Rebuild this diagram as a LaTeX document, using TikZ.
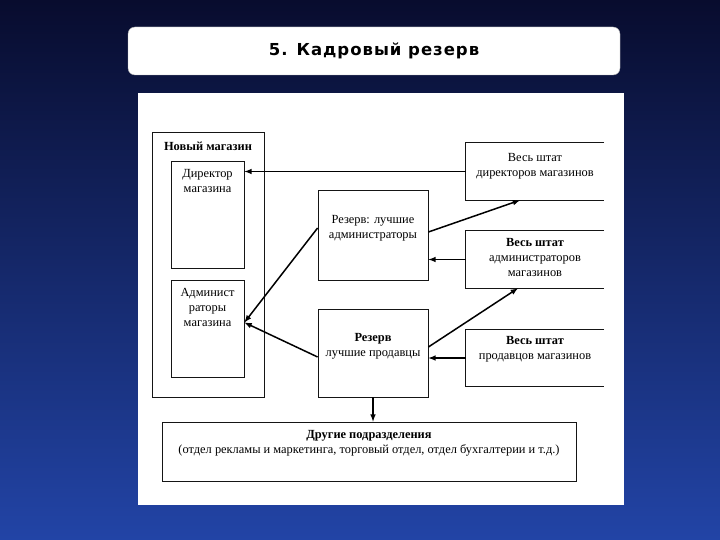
\documentclass[tikz,border=0pt]{standalone}
\usepackage{fontspec}
\setmainfont{Liberation Serif}
\newfontfamily\titlefont[LetterSpace=6]{DejaVu Sans}
\usetikzlibrary{positioning,calc,arrows}
\definecolor{slidetop}{HTML}{080C2E}
\definecolor{slidebot}{HTML}{2244A6}
\definecolor{boxline}{HTML}{151515}

\begin{document}
\begin{tikzpicture}[x=1pt,y=-1pt,
  box/.style={draw=boxline, line width=0.8pt, inner sep=0pt},
  openbox/.style={inner sep=0pt, minimum width=138pt, minimum height=57pt},
  lbl/.style={align=center, inner sep=0pt, font=\fontsize{12.4}{15}\selectfont},
  lblb/.style={lbl, font=\fontsize{12.4}{15}\selectfont\bfseries},
  arr/.style={line width=1.5pt, -latex}]
  \useasboundingbox (0,0) rectangle (720,540);
  \shade[top color=slidetop, bottom color=slidebot] (0,0) rectangle (720,540);
  % title
  \node[draw=gray!60, fill=white, rounded corners=7pt, minimum width=492pt, minimum height=48pt] (title) at (374,51)
    {\titlefont\bfseries\fontsize{16.5}{20}\selectfont 5. Кадровый резерв};
  \node[fill=white, inner sep=0pt, minimum width=486pt, minimum height=412pt] (panel) at (381,299) {};
  % new store
  \node[box, minimum width=112pt, minimum height=265pt] (store) at (208,264.5) {};
  \node[lblb, below=10pt of store.north] (storetxt) {Новый магазин};
  \node[box, minimum width=73pt, minimum height=107pt] (director) at (207.5,214.5) {};
  \node[lbl, below=9pt of director.north] (dirtxt) {Директор\\магазина};
  \node[box, minimum width=73pt, minimum height=97pt] (admins) at (207.5,328.5) {};
  \node[lbl, below=9pt of admins.north] (admtxt) {Админист\\раторы\\магазина};
  % reserves
  \node[box, minimum width=110pt, minimum height=90pt] (resadm) at (373,235) {};
  \node[lbl, below=26pt of resadm.north] (resadmtxt) {Резерв: лучшие\\администраторы};
  \node[box, minimum width=110pt, minimum height=88pt] (ressel) at (373,353) {};
  \node[lbl, below=25pt of ressel.north] (reseltxt) {\textbf{Резерв}\\лучшие продавцы};
  % whole staff
  \node[openbox] (alldir) at (535,171.5) {};
  \node[lbl, below=10pt of alldir.north] (alldirtxt) {Весь штат\\директоров магазинов};
  \node[openbox] (alladm) at (535,259.5) {};
  \node[lbl, below=7pt of alladm.north] (alladmtxt) {\textbf{Весь штат}\\администраторов\\магазинов};
  \node[openbox] (allsel) at (535,358) {};
  \node[lbl, below=7pt of allsel.north] (allseltxt) {\textbf{Весь штат}\\продавцов магазинов};
  \foreach \b in {alldir,alladm,allsel}
    \draw[line width=0.8pt, boxline] (\b.north east) -- (\b.north west) -- (\b.south west) -- (\b.south east);
  % other departments
  \node[box, minimum width=414pt, minimum height=59pt] (other) at (369,451.5) {};
  \node[lbl, below=9pt of other.north] (othertxt) {\textbf{Другие подразделения}\\(отдел рекламы и маркетинга, торговый отдел, отдел бухгалтерии и т.д.)};
  % arrows
  \draw[arr] (alldir.west) -- (director.east |- alldir.west);
  \draw[arr] ([yshift=3pt]resadm.east) -- ([xshift=-15pt]alldir.south);
  \draw[arr] (alladm.west) -- (resadm.east |- alladm.west);
  \draw[arr] ([yshift=7pt]resadm.west) -- ([yshift=6pt]admins.east);
  \draw[arr] ([yshift=-4pt]ressel.west) -- ([yshift=6pt]admins.east);
  \draw[arr] ([yshift=6pt]ressel.east) -- ([xshift=-17pt]alladm.south);
  \draw[arr] (allsel.west) -- (ressel.east |- allsel.west);
  \draw[arr] (ressel.south) -- (ressel.south |- other.north);
\end{tikzpicture}
\end{document}
